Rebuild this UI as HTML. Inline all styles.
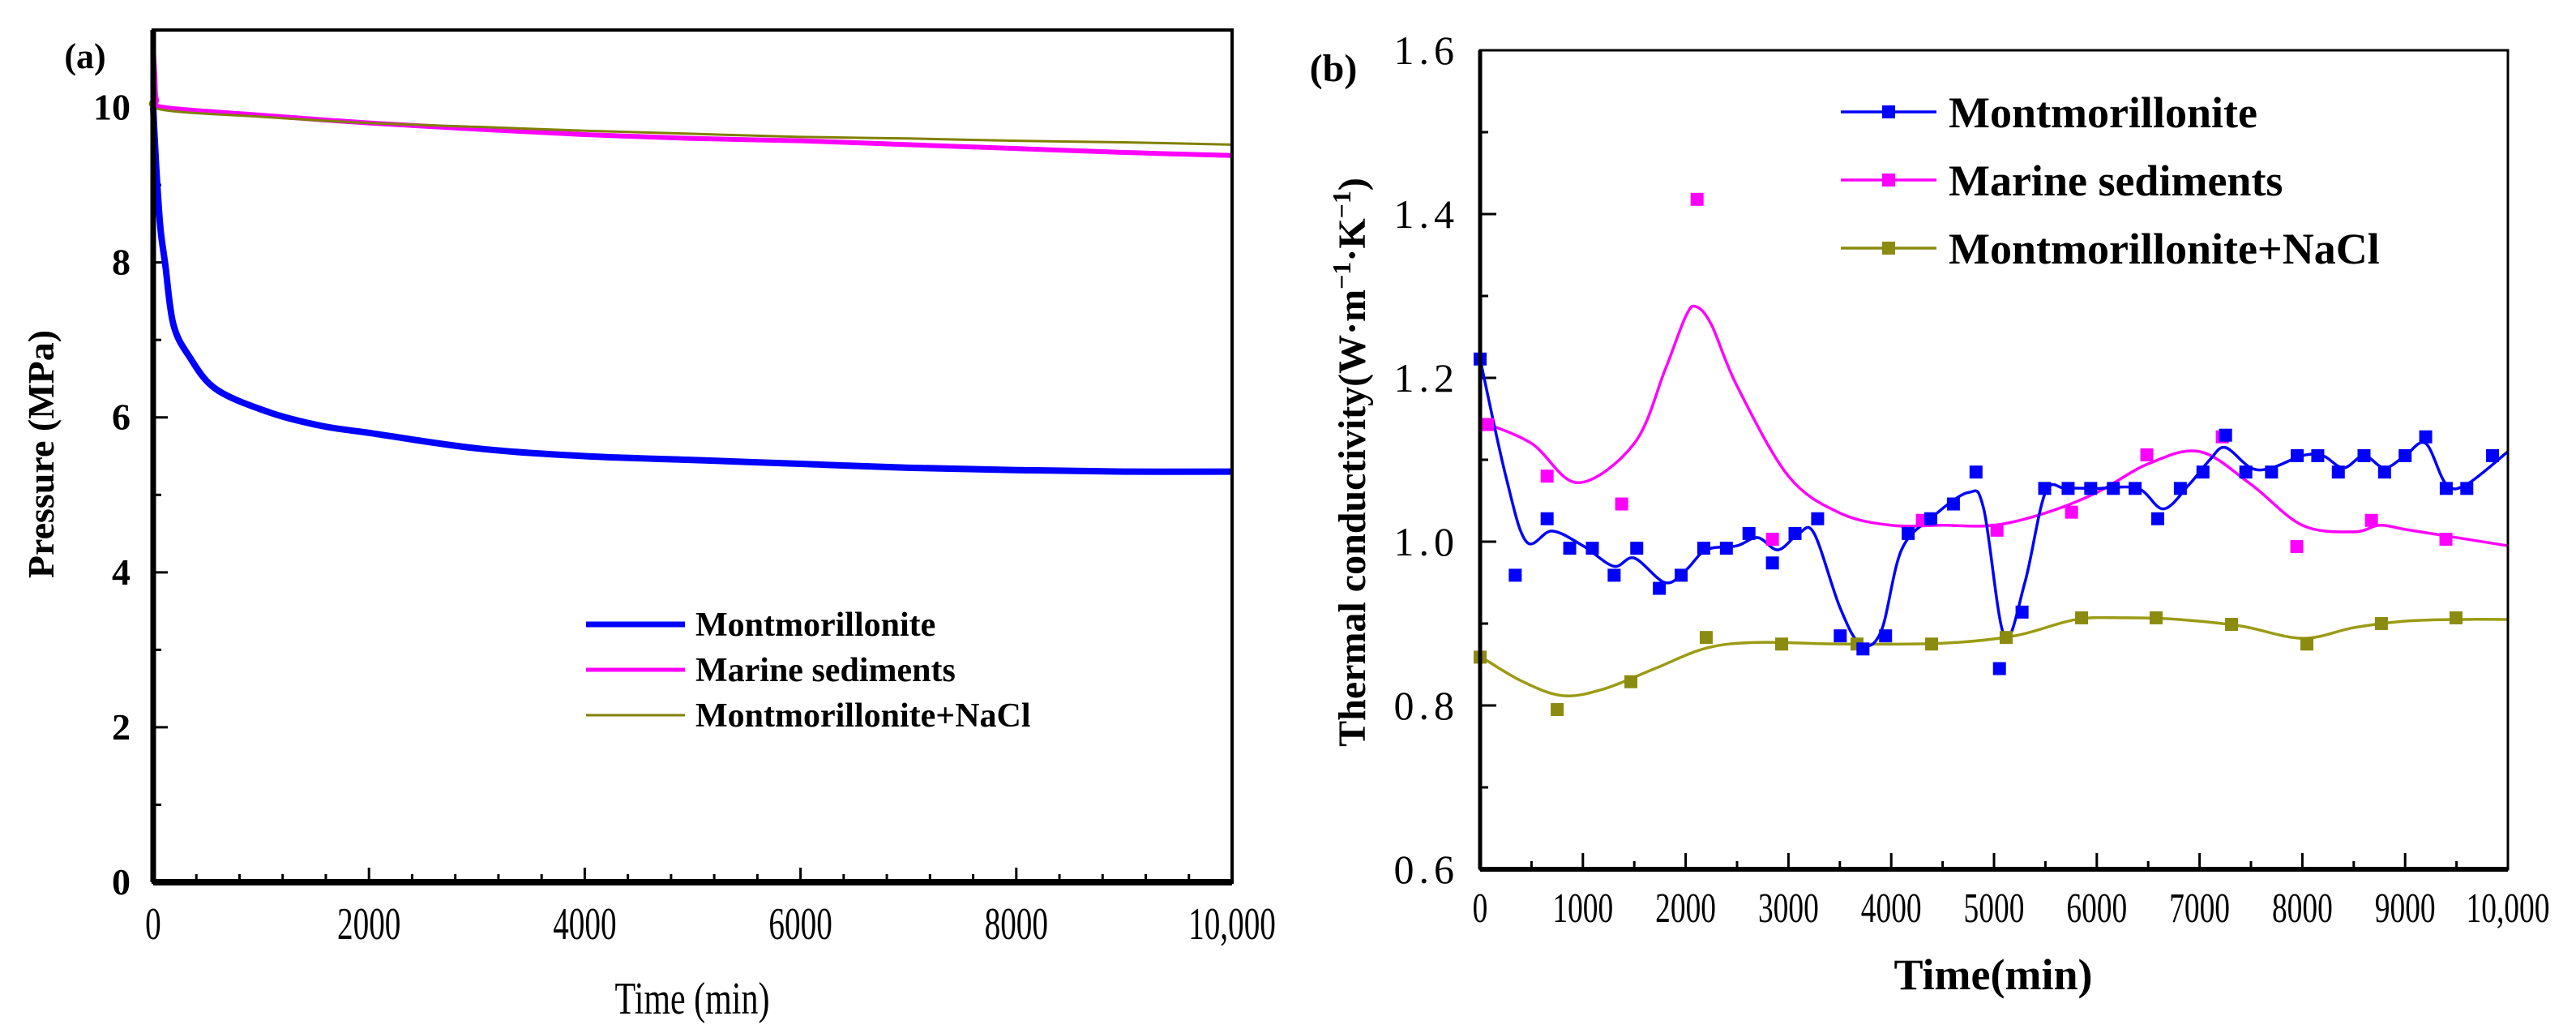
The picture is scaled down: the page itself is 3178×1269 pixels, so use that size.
<!DOCTYPE html>
<html><head><meta charset="utf-8"><style>
html,body{margin:0;padding:0;background:#fff;}
svg{display:block;}
text{font-family:"Liberation Serif",serif;fill:#000;}
</style></head><body>
<svg id="fig" width="3178" height="1269" viewBox="0 0 3178 1269">
<g id="pa"></g>
<g id="pb"></g>
</svg>
<script>
// ---------- Panel (a) data ----------
const aMontT = [0,10,25,45,70,112,187,337,587,1087,1562,2000,3000,4000,5000,6000,7000,8000,9000,10000];
const aMontV = [10.0,9.7,9.3,8.85,8.4,7.97,7.2,6.78,6.36,6.06,5.89,5.8,5.6,5.5,5.45,5.4,5.35,5.32,5.3,5.3];
const aMarT = [0,15,30,100,1000,2000,3000,4000,5000,6000,7000,8000,9000,10000];
const aMarV = [10.8,10.4,10.1,10.0,9.9,9.8,9.72,9.65,9.6,9.57,9.52,9.47,9.42,9.38];
const aNaT = [0,20,50,1000,2000,3000,4000,5000,6000,7000,8000,9000,10000];
const aNaV = [10.6,10.2,9.98,9.88,9.8,9.75,9.7,9.66,9.62,9.6,9.57,9.55,9.52];
const aYTicks = [0,2,4,6,8,10];
const aXTicks = [0,2000,4000,6000,8000,10000];
const aXLabels = ["0","2000","4000","6000","8000","10,000"];

// ---------- Panel (b) data ----------
const bMontT = [0,342,652,872,1092,1304,1524,1744,1956,2176,2396,2616,2844,3064,3284,3504,3725,3945,4165,4385,4605,4825,5053,5273,5493,5721,5941,6161,6373,6593,6813,7033,7253,7450,7700,7950,8150,8350,8600,8800,9000,9200,9400,9600,9850];
const bMontV = [1.223,0.959,1.028,0.992,0.992,0.959,0.992,0.943,0.959,0.992,0.992,1.010,0.974,1.010,1.028,0.885,0.869,0.885,1.010,1.028,1.046,1.085,0.845,0.914,1.065,1.065,1.065,1.065,1.065,1.028,1.065,1.085,1.13,1.085,1.085,1.105,1.105,1.085,1.105,1.085,1.105,1.128,1.065,1.065,1.105];
const bMarT = [73,652,1377,2111,2844,4303,5029,5754,6487,7221,7946,8672,9397];
const bMarV = [1.143,1.08,1.046,1.418,1.003,1.026,1.014,1.036,1.106,1.128,0.994,1.026,1.003];
const bNaT = [0,750,1467,2200,2934,3667,4393,5118,5852,6577,7311,8044,8769,9495];
const bNaV = [0.859,0.795,0.829,0.883,0.875,0.875,0.875,0.883,0.907,0.907,0.899,0.875,0.900,0.907];
// fitted curves
const bMontFitT = [0,250,450,700,1000,1300,1500,1800,2000,2200,2500,2700,2900,3100,3250,3500,3700,3900,4100,4400,4750,4900,5100,5300,5500,5700,6000,6400,6650,6900,7100,7250,7500,7700,8000,8200,8400,8600,8800,9000,9200,9400,9600,10000];
const bMontFitV = [1.223,1.08,1.0,1.013,0.995,0.97,0.98,0.95,0.965,0.99,0.995,1.005,0.99,1.01,1.01,0.92,0.875,0.89,0.99,1.03,1.06,1.04,0.885,0.95,1.06,1.065,1.065,1.065,1.04,1.07,1.1,1.115,1.09,1.09,1.105,1.105,1.09,1.105,1.09,1.105,1.12,1.07,1.07,1.11];
const bMarFitT = [0,500,950,1500,1800,2000,2100,2250,2500,3000,3500,4000,4500,5000,5500,6000,6500,7000,7500,8000,8500,8750,9000,9500,10000];
const bMarFitV = [1.147,1.12,1.072,1.12,1.21,1.275,1.287,1.265,1.19,1.08,1.035,1.02,1.02,1.02,1.035,1.06,1.095,1.11,1.07,1.02,1.012,1.02,1.015,1.005,0.995];
const bNaFitT = [0,400,800,1200,1700,2200,2700,3500,4500,5200,5800,6300,6800,7400,8000,8500,9000,9500,10000];
const bNaFitV = [0.86,0.83,0.812,0.82,0.845,0.87,0.877,0.875,0.876,0.885,0.905,0.907,0.905,0.897,0.882,0.895,0.903,0.905,0.905];
const bYTicks = [0.6,0.8,1.0,1.2,1.4,1.6];
const bXTicks = [0,1000,2000,3000,4000,5000,6000,7000,8000,9000,10000];
const bXLabels = ["0","1000","2000","3000","4000","5000","6000","7000","8000","9000","10,000"];

const NS="http://www.w3.org/2000/svg";
function mk(parent,tag,attrs,txt){const e=document.createElementNS(NS,tag);for(const k in attrs)e.setAttribute(k,attrs[k]);if(txt!==undefined)e.textContent=txt;parent.appendChild(e);return e;}
function smooth(pts){let d="M"+pts[0][0]+","+pts[0][1];for(let i=0;i<pts.length-1;i++){const p0=pts[i>0?i-1:i],p1=pts[i],p2=pts[i+1],p3=pts[i+2<pts.length?i+2:i+1];const c1x=p1[0]+(p2[0]-p0[0])/6,c1y=p1[1]+(p2[1]-p0[1])/6,c2x=p2[0]-(p3[0]-p1[0])/6,c2y=p2[1]-(p3[1]-p1[1])/6;d+=" C"+c1x+","+c1y+" "+c2x+","+c2y+" "+p2[0]+","+p2[1];}return d;}

// ===== Panel A =====
(function(){
const g=document.getElementById('pa');
const L=189,R=1520,T=37,B=1088;
const x=t=>L+(t/10000)*(R-L);
const y=v=>B-(v/11)*(B-T);
for(let v=0;v<=11;v++){const maj=v%2===0;const e=mk(g,'line',{x1:L,x2:L+(maj?18:10),y1:y(v),y2:y(v),stroke:'#000','stroke-width':3});
}
for(let t=0;t<=10000;t+=400){const maj=t%2000===0;const e=mk(g,'line',{x1:x(t),x2:x(t),y1:B,y2:B-(maj?18:10),stroke:'#000','stroke-width':3});
}
aYTicks.forEach(v=>{const e=mk(g,'text',{x:L-28,y:y(v)+15,'text-anchor':'end','font-size':46,'font-weight':'bold'},String(v));
});
aXTicks.forEach((t,i)=>{const e=mk(g,'text',{x:x(t),y:1158,'text-anchor':'middle','font-size':56,transform:'translate('+x(t)+',0) scale(0.7,1) translate('+(-x(t))+',0)'},aXLabels[i]);
});
function line(T_,V_,col,w,name){const pts=T_.map((t,i)=>[x(t),y(V_[i])]);const e=mk(g,'path',{d:smooth(pts),fill:'none',stroke:col,'stroke-width':w,'stroke-linejoin':'round'});
}
line(aMarT,aMarV,'#ff00ff',6,'series-marine-sediments');
line(aNaT,aNaV,'#808000',3,'series-montmorillonite-nacl');
line(aMontT,aMontV,'#0000ff',8,'series-montmorillonite');
let e=mk(g,'rect',{x:L,y:T,width:R-L,height:B-T,fill:'none',stroke:'#000','stroke-width':4});

e=mk(g,'line',{x1:L,x2:R,y1:B,y2:B,stroke:'#000','stroke-width':8});

e=mk(g,'line',{x1:L,x2:L,y1:T,y2:B,stroke:'#000','stroke-width':7});

e=mk(g,'text',{x:854,y:1250,'text-anchor':'middle','font-size':56,transform:'translate(854,0) scale(0.75,1) translate(-854,0)'},'Time (min)');

e=mk(g,'text',{x:0,y:0,'text-anchor':'middle','font-size':46,'font-weight':'bold',transform:'translate(66,560) rotate(-90)'},'Pressure (MPa)');

e=mk(g,'text',{x:105,y:84,'text-anchor':'middle','font-size':44,'font-weight':'bold'},'(a)');

const leg=[['Montmorillonite','#0000ff',7],['Marine sediments','#ff00ff',5],['Montmorillonite+NaCl','#808000',3]];
leg.forEach((l,i)=>{const yy=770+i*56;const gg=mk(g,'g',{});

mk(gg,'line',{x1:723,x2:845,y1:yy,y2:yy,stroke:l[1],'stroke-width':l[2]});
mk(gg,'text',{x:858,y:yy+14,'font-size':42,'font-weight':'bold'},l[0]);});
})();

// ===== Panel B =====
(function(){
const g=document.getElementById('pb');
const L=1826,R=3094,T=62,B=1072;
const x=t=>L+(t/10000)*(R-L);
const y=v=>B-((v-0.6)/1.0)*(B-T);
for(let k=0;k<=10;k++){const v=0.6+k*0.1;const maj=k%2===0;const e=mk(g,'line',{x1:L,x2:L+(maj?20:10),y1:y(v),y2:y(v),stroke:'#000','stroke-width':3});
}
for(let t=0;t<=10000;t+=500){const maj=t%1000===0;const e=mk(g,'line',{x1:x(t),x2:x(t),y1:B,y2:B-(maj?20:10),stroke:'#000','stroke-width':3});
}
bYTicks.forEach(v=>{const e=mk(g,'text',{x:1800,y:y(v)+17,'text-anchor':'end','font-size':50,'letter-spacing':'6'},v.toFixed(1));
});
bXTicks.forEach((t,i)=>{const cx=x(t);const e=mk(g,'text',{x:cx,y:1137,'text-anchor':'middle','font-size':52,transform:'translate('+cx+',0) scale(0.72,1) translate('+(-cx)+',0)'},bXLabels[i]);
});
function fit(T_,V_,col,w,name){const pts=T_.map((t,i)=>[x(t),y(V_[i])]);const e=mk(g,'path',{d:smooth(pts),fill:'none',stroke:col,'stroke-width':w});
}
function pts(T_,V_,col,name){T_.forEach((t,i)=>{const e=mk(g,'rect',{x:x(t)-8,y:y(V_[i])-8,width:16,height:16,fill:col});
});}
fit(bMarFitT,bMarFitV,'#ff00ff',3.5,'fit-marine-sediments');
fit(bNaFitT,bNaFitV,'#9b9b14',3.5,'fit-montmorillonite-nacl');
fit(bMontFitT,bMontFitV,'#0000ff',3.5,'fit-montmorillonite');
pts(bMarT,bMarV,'#ff00ff','point-marine-sediments');
pts(bNaT,bNaV,'#8b8b10','point-montmorillonite-nacl');
pts(bMontT,bMontV,'#0000ff','point-montmorillonite');
let e=mk(g,'rect',{x:L,y:T,width:R-L,height:B-T,fill:'none',stroke:'#000','stroke-width':3});

e=mk(g,'line',{x1:L,x2:R,y1:B,y2:B,stroke:'#000','stroke-width':6});

e=mk(g,'line',{x1:L,x2:L,y1:T,y2:B,stroke:'#000','stroke-width':5});

e=mk(g,'text',{x:2459,y:1220,'text-anchor':'middle','font-size':54,'font-weight':'bold'},'Time(min)');

e=mk(g,'text',{x:0,y:0,'text-anchor':'middle','font-size':48,'font-weight':'bold',transform:'translate(1684,570) rotate(-90)'});

e.innerHTML='Thermal conductivity(W·m<tspan dy="-18" font-size="32">−1</tspan><tspan dy="18">·K</tspan><tspan dy="-18" font-size="32">−1</tspan><tspan dy="18">)</tspan>';
e=mk(g,'text',{x:1645,y:100,'text-anchor':'middle','font-size':48,'font-weight':'bold'},'(b)');

const leg=[['Montmorillonite','#0000ff'],['Marine sediments','#ff00ff'],['Montmorillonite+NaCl','#8b8b10']];
leg.forEach((l,i)=>{const yy=138+i*84;const gg=mk(g,'g',{});

mk(gg,'line',{x1:2271,x2:2389,y1:yy,y2:yy,stroke:l[1],'stroke-width':3.5});
mk(gg,'rect',{x:2322,y:yy-8,width:16,height:16,fill:l[1]});
mk(gg,'text',{x:2404,y:yy+19,'font-size':54,'font-weight':'bold'},l[0]);});
})();
</script>
</body></html>
